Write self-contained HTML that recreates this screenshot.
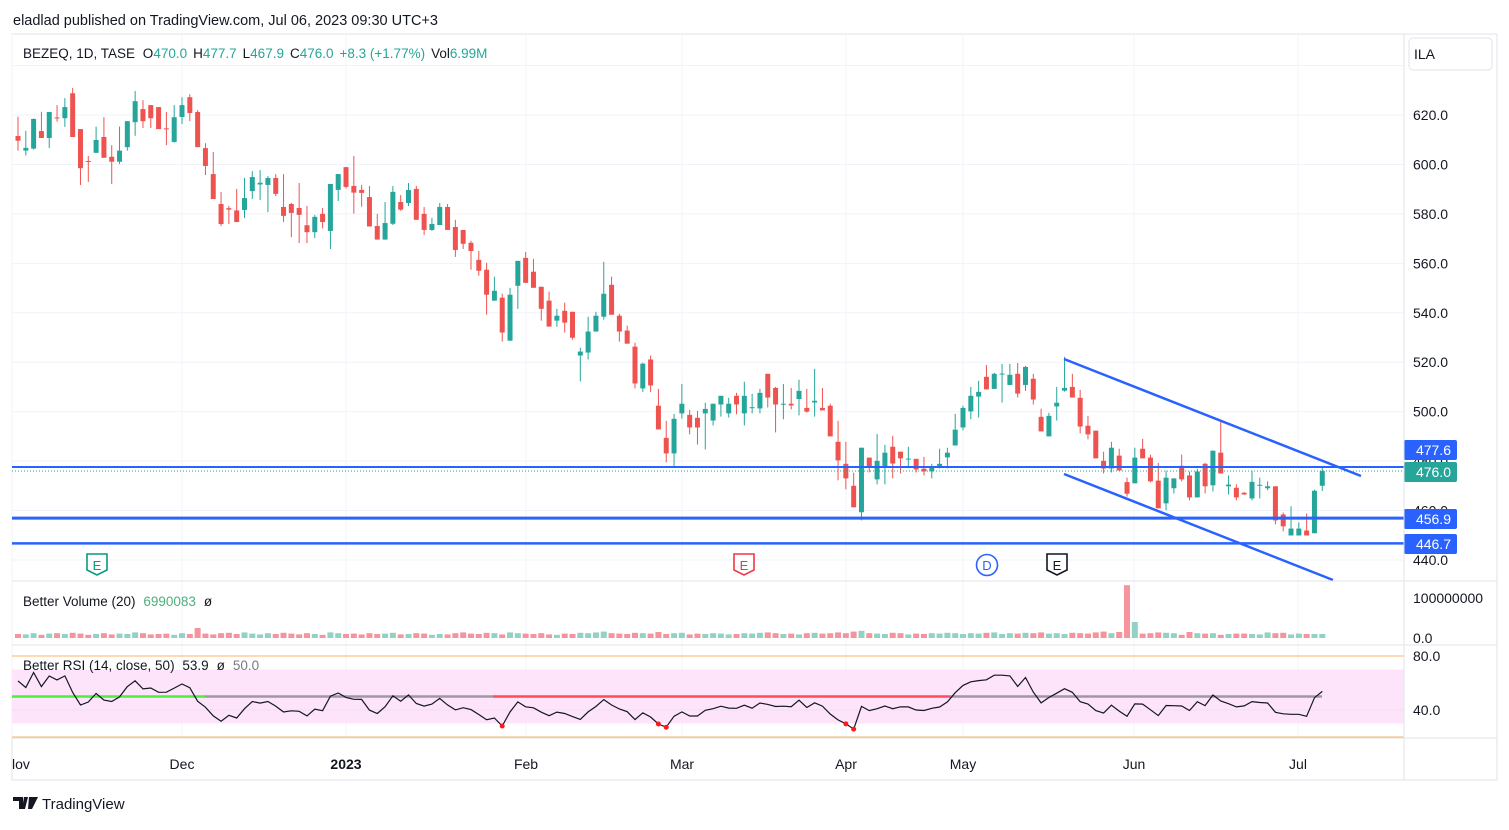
<!DOCTYPE html>
<html><head><meta charset="utf-8"><style>
html,body{margin:0;padding:0;background:#fff;}
body{width:1509px;height:825px;overflow:hidden;font-family:"Liberation Sans",sans-serif;}
svg text{font-family:"Liberation Sans",sans-serif;}
</style></head><body>
<svg id="chart" width="1509" height="825" viewBox="0 0 1509 825" xmlns="http://www.w3.org/2000/svg">
<text x="13" y="25" font-size="14.5" fill="#131722">eladlad published on TradingView.com, Jul 06, 2023 09:30 UTC+3</text>
<rect x="12" y="34" width="1485" height="746" fill="#fff" stroke="#e0e3eb" stroke-width="1"/>
<g id="grid"></g>
<g id="pricePane"></g>
<g id="volPane"></g>
<g id="rsiPane"></g>
<g id="axes"></g>
<line x1="12" y1="581" x2="1497" y2="581" stroke="#e0e3eb"/>
<line x1="12" y1="645" x2="1497" y2="645" stroke="#e0e3eb"/>
<line x1="12" y1="738" x2="1497" y2="738" stroke="#e0e3eb"/>
<line x1="1404" y1="34" x2="1404" y2="780" stroke="#e0e3eb"/>
<text x="23" y="58" font-size="13.5" fill="#131722">BEZEQ, 1D, TASE <tspan dx="4">O</tspan><tspan fill="#26a69a">470.0</tspan><tspan dx="6">H</tspan><tspan fill="#26a69a">477.7</tspan><tspan dx="6">L</tspan><tspan fill="#26a69a">467.9</tspan><tspan dx="6">C</tspan><tspan fill="#26a69a">476.0</tspan><tspan dx="6" fill="#26a69a">+8.3 (+1.77%)</tspan><tspan dx="6">Vol</tspan><tspan fill="#26a69a">6.99M</tspan></text>
<text x="23" y="606" font-size="13.5" fill="#131722">Better Volume (20) <tspan dx="4" fill="#4caf7d">6990083</tspan><tspan dx="8">ø</tspan></text>
<text x="23" y="670" font-size="13.5" fill="#131722">Better RSI (14, close, 50) <tspan dx="4">53.9</tspan><tspan dx="8">ø</tspan><tspan dx="8" fill="#787b86">50.0</tspan></text>
<rect x="1409" y="38" width="83" height="32" rx="4" fill="#fff" stroke="#e0e3eb"/>
<text x="1414" y="59" font-size="14" fill="#131722">ILA</text>
<g>
<path d="M13 797h10v12h-4v-8h-6z M24 797h4l-3 12h-3z M29 797h9l-6 12h-4z" fill="#131722"/>
<text x="42" y="809" font-size="15" fill="#131722">TradingView</text>
</g>
</svg>
<script>
const opens=[611.5,605.6,606.4,613.5,610.7,619,618.7,628.8,614.3,601.4,604.7,611.1,603.1,601.1,607,617.1,622.4,624,623.2,614.6,609.1,619.2,627.2,621.2,606.6,596.1,584,582.3,581.4,581.6,589.2,591.9,591.7,594.5,582.8,584,582.4,575.4,572.6,580,573.1,589.7,598.9,591.3,589.7,586.8,575.1,569.6,576,584.8,584.4,590.1,580,573.5,575.5,582.8,574.7,573.5,568.3,561.4,557.4,544.9,546.1,528.7,550.9,562.2,556.6,550.5,544.9,536.8,540.8,540.4,522.7,523.9,532.4,538.4,551.3,538.8,532.8,526.3,509.4,521.1,502.4,489.4,483.1,499.3,498.7,497.5,499.3,496.4,502.9,499.3,506.4,499.3,501.6,501.3,515.3,509.6,503.1,503.2,505.1,501.5,503.7,501.5,502.4,487.8,478.9,470,459.3,481.4,472.6,477.4,485.8,483.8,480.9,480.9,476.9,475.8,477.4,481.5,486.3,493.6,500.1,506.1,514.1,509.2,515.2,510.8,515.3,510.8,513.3,497.9,490,502.1,508.5,510,505.6,494.3,492.3,480.1,477,482.2,471.5,471,485,481.4,472.1,462.9,469,478.1,474.2,465.3,478.9,470.2,483.4,469.8,469.2,467.2,464.9,470.2,469,469.8,458.4,449.9,449.9,451.9,450.8,470];
const highs=[619.3,613.6,618.6,621.3,621.2,624,626.8,630.9,614.3,603.4,615.3,619.1,607.8,615.3,617.5,629.7,626,624,623.2,621.2,624,627.2,628.4,622,608.6,605,588.8,583.2,590.1,594.5,597.3,597.7,595.3,596.1,596.1,584.4,592.5,583.2,579.6,582.4,592.1,596.1,599,603.4,591.7,591.3,580,584.8,591.3,587.6,592.5,591.3,582.8,578.4,584.4,584,577.6,573.5,569.1,565,560.2,554.6,547.7,550.1,561,564.6,561.8,550.5,548.5,541.6,544.1,540.4,525.9,538.4,540.4,560.6,554.6,539.6,534.8,527.9,519.8,522.7,509.2,496.3,499.1,511.2,500.7,500.3,503.6,503.2,506.4,505.6,507.6,512.1,507.2,509.2,515.3,510,511.2,509.6,512.9,509.2,517.3,509.6,503.2,496.3,487.8,475.3,485.4,481.4,491,486.6,490.2,483.8,485.8,480.9,481.7,478.9,485,485.4,499.1,502.4,510,512.5,518.9,515.7,519.3,519.3,519.7,518.5,515.3,501.2,499.5,510,522.2,515.3,508.8,498.3,492.3,483.8,487.8,485,473.3,485.4,489,482.6,479.3,476.1,473,482.6,475.8,476.9,479.3,484.2,496.3,474.2,470.6,467.4,476.1,473.3,471.8,469.8,459.2,461.7,455.2,458.8,468.4,477.7];
const lows=[605.6,603.6,606,610.7,606.6,617.3,615.2,611.1,591.7,592.9,604.7,602.7,592.1,600.2,605.6,611.6,614.7,614.7,614.3,607.8,608.8,616.3,617.5,607,595.7,586,575.1,575.9,576.7,578.3,586,585.6,580.7,587.2,576.7,570.6,568.2,568.2,570.2,574.1,565.8,585.2,590.2,580.1,582.9,574.9,569.6,569.6,575.5,581.3,583.2,577.6,571.5,573.1,575.5,573.5,562.6,565.8,557.4,555,539.2,544.9,528.3,528.7,541.6,552.1,550.1,536.8,534.4,534.4,532,529.1,512.2,521.1,532.4,537.2,539.2,528.3,527.5,509.4,508,508,492.8,479.5,477.4,497.2,490.8,486.7,484.7,494.4,498,497.6,498.9,494.4,499.3,499.3,501.7,491.6,496.9,500.9,498.5,499.6,498,500.5,490,472.2,468.6,461.3,456,475.4,470.6,470.6,473,475,477.8,475.4,474.2,473,477,477,486.3,492.4,496.9,497.6,509,509.2,503.7,510.8,505.7,508.4,502.9,492,490,496.4,508.1,505.7,491.2,488.8,481.1,475,475.4,476.2,465.6,471,481.1,471.4,460.9,460.1,466.9,471.8,464.1,465.3,466.9,467.7,475,466.5,464.1,466.3,464.1,464.9,468.2,454.4,451.6,449.9,449.9,449.9,450.8,467.9];
const closes=[609.6,606.7,618.4,610.7,621.2,618.7,623.2,611.1,598.5,601.2,609.9,602.7,601.1,605.6,617.5,625.6,617.5,618.7,614.3,614.4,619.1,624,620.8,607,599.4,586,575.9,581.7,576.7,586.4,594.9,592.6,594.5,588.1,579.2,580.4,579.6,572.6,578.8,576.7,592.1,596.1,590.9,588.6,588.5,574.9,569.6,576.3,588.9,581.7,589.7,577.6,573.5,575.9,582.8,573.5,565.4,567.9,565,557,547.3,548.9,532,547.3,561,552.1,550.1,541.6,534.4,538.8,536,529.9,524.3,532.4,538.8,547.7,539.2,532.4,527.5,511.4,519.4,510.6,492.8,483.1,497.1,503.2,493.6,493.6,501.1,503.2,506.4,503.2,502.9,506.4,501.8,507.6,505.7,502.9,503.2,502.5,508.4,500,504.4,500.5,490,480.3,473,461.3,485.4,477.8,480.1,483.4,479,481.1,481,476.6,475.8,477.8,478.9,483.4,492.7,501.5,506.4,508,509,515.3,515.4,514.9,507.3,518.1,504.9,492,498.3,503.6,509.6,505.7,494,490.8,481.1,477,485.4,476.2,466.8,481.4,481.1,471.8,460.9,473.3,473,472.6,465.3,475.8,469.8,484.2,475,470.5,465.3,466.5,471.6,470.4,469.8,456,453.6,452.7,452.7,449.9,468,476];
const volumes=[10,9,12,8,11,12,10,13,11,8,10,12,9,11,10,14,12,9,10,11,8,12,10,25,11,9,12,13,10,14,11,9,12,10,13,11,9,12,10,8,14,12,10,11,9,12,10,11,13,9,10,12,11,8,10,9,12,14,11,10,13,12,9,14,12,11,10,12,9,8,11,10,13,12,14,16,12,11,10,13,12,11,15,10,12,13,9,11,10,12,11,9,10,12,11,13,14,12,10,11,9,12,13,11,12,14,12,16,18,12,11,10,13,12,9,11,10,12,11,13,12,10,12,11,13,14,10,12,11,13,12,14,11,12,10,13,12,11,14,16,12,15,132,40,11,12,14,13,12,8,15,12,11,12,8,10,11,11,10,9,14,12,13,9,11,10,10,10];
const priceTicks=[640,620,600,580,560,540,520,500,480,460,440];
const monthLabels=["Nov","Dec","2023","Feb","Mar","Apr","May","Jun","Jul"];
const monthIndex=[-1,21,42,65,85,106,121,143,164];
const levelPrices=[477.6,456.9,446.7];

const NS="http://www.w3.org/2000/svg";
const X0=18, STEP=7.81;
function xOf(i){return X0+i*STEP;}
function yOf(p){return 115+(620-p)*2.472;}
function vy(v){return 638-v*0.4;}
function ry(r){return 656+(80-r)*1.35;}
function mk(tag,attrs,parent){const e=document.createElementNS(NS,tag);for(const k in attrs)e.setAttribute(k,attrs[k]);parent.appendChild(e);return e;}
const grid=document.getElementById('grid'),pp=document.getElementById('pricePane'),vp=document.getElementById('volPane'),rp=document.getElementById('rsiPane'),ax=document.getElementById('axes');
const monthX=[12,182,346,526,682,846,963,1134,1298];
// price grid
priceTicks.forEach(t=>{const l=mk('line',{x1:12,x2:1404,y1:yOf(t),y2:yOf(t),stroke:'#f0f3fa'},grid);

});
monthX.forEach((x,k)=>{const l=mk('line',{x1:x,x2:x,y1:34,y2:738,stroke:'#f0f3fa'},grid);

});
// candles
for(let i=0;i<closes.length;i++){
 const up=closes[i]>=opens[i];const col=up?'#26a69a':'#ef5350';const x=xOf(i);
 const g=mk('g',{},pp);
 
 
 mk('line',{x1:x,x2:x,y1:yOf(highs[i]),y2:yOf(lows[i]),stroke:col,'stroke-width':1},g);
 const t=yOf(Math.max(opens[i],closes[i])),b=yOf(Math.min(opens[i],closes[i]));
 mk('rect',{x:x-2.5,y:t,width:5,height:Math.max(1,b-t),fill:col},g);
 const vb=mk('rect',{x:x-3,y:vy(volumes[i]),width:6,height:638-vy(volumes[i]),fill:up?'#92d2c5':'#f5949c'},vp);
 
 
}
// levels
const lw=[2,3,2.5];
levelPrices.forEach((p,k)=>{const l=mk('line',{x1:12,x2:1404,y1:yOf(p),y2:yOf(p),stroke:'#2962ff','stroke-width':lw[k]},pp);

});
const last=closes[closes.length-1];
const dl=mk('line',{x1:12,x2:1404,y1:yOf(last),y2:yOf(last),stroke:'#26a69a','stroke-width':1,'stroke-dasharray':'1 2'},pp);


// trend channel
const tl1=mk('line',{x1:1064,y1:359,x2:1361,y2:476,stroke:'#2962ff','stroke-width':2.5},pp);


const tl2=mk('line',{x1:1064,y1:474,x2:1333,y2:580,stroke:'#2962ff','stroke-width':2.5},pp);


// events
const ev=[[97,'E','#089981','#fff'],[744,'E','#f23645','#fff'],[987,'D','#2962ff','#fff'],[1057,'E','#131722','#fff']];
ev.forEach(e=>{const g=mk('g',{},pp);


if(e[1]==='D'){mk('circle',{cx:e[0],cy:565,r:10.5,fill:e[3],stroke:e[2],'stroke-width':1.6},g);}
else{mk('path',{d:`M${e[0]-10} ${554}h20v16l-10 5l-10-5z`,fill:e[3],stroke:e[2],'stroke-width':1.6},g);}
const t=mk('text',{x:e[0],y:570,'font-size':13,'text-anchor':'middle',fill:e[2]},g);t.textContent=e[1];});
// price axis
priceTicks.forEach(t=>{const tx=mk('text',{x:1413,y:yOf(t)+5,'font-size':14,fill:'#131722'},ax);tx.textContent=t.toFixed(1);

});
const boxes=[[levelPrices[0],450,'#2962ff'],[last,472,'#26a69a'],[levelPrices[1],519,'#2962ff'],[levelPrices[2],544,'#2962ff']];
boxes.forEach(b=>{const g=mk('g',{},ax);


mk('rect',{x:1404,y:b[1]-10,width:53,height:20,rx:2,fill:b[2]},g);
const t=mk('text',{x:1451,y:b[1]+5,'font-size':14,'text-anchor':'end',fill:'#fff'},g);t.textContent=b[0].toFixed(1);});
// volume axis
[[100000000,100],[0,0]].forEach(v=>{const t=mk('text',{x:1413,y:vy(v[1])+5,'font-size':14,fill:'#131722'},ax);t.textContent=v[0]===0?'0.0':String(v[0]);

});
// RSI pane
const band=mk('rect',{x:12,y:ry(70),width:1392,height:ry(30)-ry(70),fill:'#fde4fb'},rp);


[80,20].forEach(v=>{const l=mk('line',{x1:12,x2:1404,y1:ry(v),y2:ry(v),stroke:'#f9b66a','stroke-width':1},rp);

});
const l40=mk('line',{x1:12,x2:1404,y1:ry(40),y2:ry(40),stroke:'#f0e0ee'},rp);


const mids=[[12,205,'#4cef3a'],[205,493,'#9d98a4'],[493,950,'#ff4b5a'],[950,1322,'#9d98a4']];
mids.forEach(m=>{const l=mk('line',{x1:m[0],x2:m[1],y1:ry(50),y2:ry(50),stroke:m[2],'stroke-width':2.5},rp);

});
// compute RSI (Wilder 14) from closes
let ag=1.6,al=1.0;const rsi=[100-100/(1+ag/al)];
for(let i=1;i<closes.length;i++){const d=closes[i]-closes[i-1];ag=(ag*13+Math.max(d,0))/14;al=(al*13+Math.max(-d,0))/14;rsi.push(100-100/(1+ag/al));}
let d='';rsi.forEach((r,i)=>{d+=(i?'L':'M')+xOf(i).toFixed(1)+' '+ry(r).toFixed(1);});
const rl=mk('path',{d:d,fill:'none',stroke:'#131722','stroke-width':1.2},rp);


rsi.forEach((r,i)=>{if(r<30.5){const c=mk('circle',{cx:xOf(i),cy:ry(r),r:2.5,fill:'#ff1a1a'},rp);

}});
[80,40].forEach(v=>{const t=mk('text',{x:1413,y:ry(v)+5,'font-size':14,fill:'#131722'},ax);t.textContent=v.toFixed(1);

});
// time axis
monthLabels.forEach((m,k)=>{const x=monthIndex[k]<0?12:xOf(monthIndex[k]);
const t=mk('text',{x:k===0?12:monthX[k],y:769,'font-size':14,'text-anchor':k===0?'start':'middle',fill:'#131722','font-weight':m==='2023'?'bold':'normal'},ax);
t.textContent=k===0?'lov':m;

});
</script>
</body></html>
